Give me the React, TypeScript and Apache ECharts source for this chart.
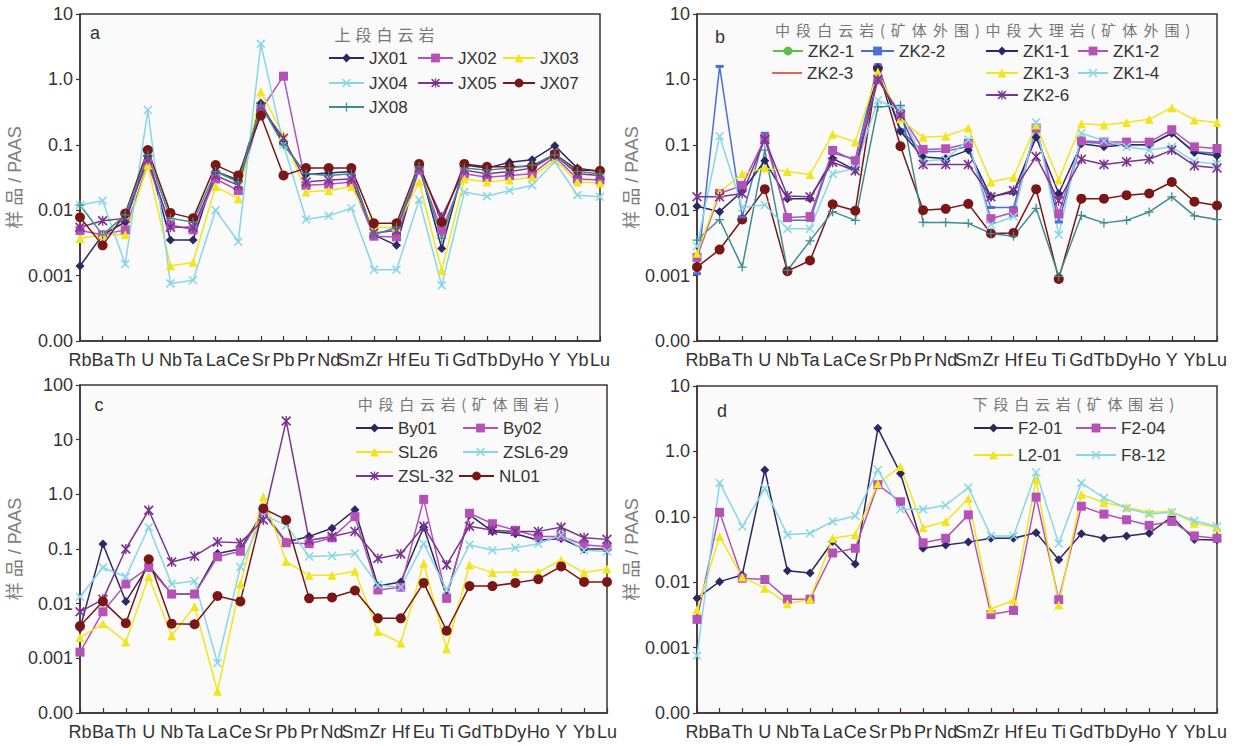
import React, { useEffect, useRef } from 'react';
import * as echarts from 'echarts';

const CATEGORIES = ['Rb', 'Ba', 'Th', 'U', 'Nb', 'Ta', 'La', 'Ce', 'Sr', 'Pb', 'Pr', 'Nd', 'Sm', 'Zr', 'Hf', 'Eu', 'Ti', 'Gd', 'Tb', 'Dy', 'Ho', 'Y', 'Yb', 'Lu'];

// Y tick labels, indexed from exponent -4 upwards
const Y_LABELS_A = ['0.00', '0.001', '0.01', '0.1', '1.0', '10'];
const Y_LABELS_C = ['0.00', '0.001', '0.01', '0.1', '1.0', '10', '100'];
const Y_LABELS_D = ['0.00', '0.001', '0.01', '0.10', '1.0', '10'];

// Panel a
const JX01 = [0.0014, 0.0042, 0.0066, 0.066, 0.0035, 0.0035, 0.039, 0.029, 0.43, 0.105, 0.035, 0.037, 0.039, 0.0042, 0.0029, 0.049, 0.0026, 0.049, 0.044, 0.054, 0.059, 0.097, 0.044, 0.039];
const JX02 = [0.0049, 0.0042, 0.005, 0.051, 0.006, 0.005, 0.030, 0.020, 0.34, 1.12, 0.024, 0.025, 0.027, 0.0040, 0.0039, 0.041, 0.0049, 0.036, 0.032, 0.034, 0.036, 0.066, 0.030, 0.029];
const JX03 = [0.0037, 0.0042, 0.0042, 0.049, 0.0014, 0.0016, 0.023, 0.015, 0.65, 0.14, 0.019, 0.020, 0.023, 0.0055, 0.0055, 0.027, 0.0012, 0.030, 0.027, 0.029, 0.032, 0.059, 0.027, 0.026];
const JX04 = [0.012, 0.014, 0.0015, 0.34, 0.00076, 0.00085, 0.010, 0.0033, 3.5, 0.1, 0.0072, 0.0082, 0.0107, 0.00123, 0.00123, 0.0145, 0.00071, 0.019, 0.0163, 0.020, 0.024, 0.055, 0.017, 0.016];
const JX05 = [0.0055, 0.0069, 0.0075, 0.059, 0.0055, 0.0055, 0.034, 0.024, 0.38, 0.126, 0.027, 0.029, 0.030, 0.0045, 0.0049, 0.044, 0.0079, 0.041, 0.036, 0.039, 0.044, 0.07, 0.036, 0.034];
const JX07 = [0.0078, 0.0029, 0.0089, 0.083, 0.0091, 0.0075, 0.049, 0.034, 0.28, 0.034, 0.044, 0.044, 0.044, 0.0063, 0.0063, 0.051, 0.0066, 0.051, 0.046, 0.046, 0.047, 0.072, 0.041, 0.040];
const JX08 = [0.012, 0.0042, 0.0085, 0.07, 0.0075, 0.0066, 0.039, 0.027, 0.40, 0.10, 0.036, 0.034, 0.036, 0.0042, 0.0055, 0.046, 0.0037, 0.044, 0.041, 0.044, 0.049, 0.07, 0.039, 0.036];

// Panel b
const ZK2_1 = [0.00135, 0.0025, 0.0072, 0.021, 0.00117, 0.0017, 0.0123, 0.0098, 1.5, 0.095, 0.01, 0.0105, 0.0125, 0.0044, 0.0045, 0.021, 0.00089, 0.015, 0.015, 0.017, 0.018, 0.027, 0.0135, 0.0118];
const ZK2_2 = [0.00107, 1.58, 0.0079, 0.15, 0.007, 0.007, 0.075, 0.06, 1.66, 0.17, 0.078, 0.08, 0.094, 0.011, 0.011, 0.19, 0.0066, 0.11, 0.105, 0.1, 0.1, 0.15, 0.078, 0.074];
const ZK2_3 = [0.0035, 0.0072, 0.00135, 0.083, 0.0012, 0.0034, 0.0095, 0.007, 0.38, 0.4, 0.0065, 0.0065, 0.0063, 0.0044, 0.004, 0.0107, 0.00097, 0.0083, 0.0064, 0.007, 0.0094, 0.016, 0.0082, 0.0072];
const ZK1_1 = [0.0115, 0.0095, 0.0195, 0.057, 0.015, 0.015, 0.062, 0.041, 1.5, 0.16, 0.065, 0.062, 0.083, 0.016, 0.019, 0.13, 0.018, 0.104, 0.093, 0.1, 0.1, 0.15, 0.076, 0.068];
const ZK1_2 = [0.0019, 0.018, 0.024, 0.125, 0.0077, 0.008, 0.082, 0.057, 1.0, 0.3, 0.085, 0.087, 0.105, 0.0074, 0.0093, 0.18, 0.0088, 0.115, 0.11, 0.11, 0.11, 0.17, 0.093, 0.088];
const ZK1_3 = [0.0022, 0.019, 0.036, 0.044, 0.039, 0.035, 0.145, 0.11, 1.3, 0.25, 0.13, 0.135, 0.18, 0.027, 0.032, 0.2, 0.029, 0.21, 0.2, 0.22, 0.245, 0.37, 0.24, 0.22];
const ZK1_4 = [0.0028, 0.135, 0.011, 0.012, 0.0052, 0.0052, 0.036, 0.044, 0.48, 0.34, 0.056, 0.06, 0.12, 0.006, 0.008, 0.22, 0.0042, 0.15, 0.115, 0.093, 0.083, 0.093, 0.055, 0.051];
const ZK2_6 = [0.016, 0.016, 0.018, 0.12, 0.0165, 0.016, 0.054, 0.04, 1.0, 0.28, 0.05, 0.05, 0.05, 0.016, 0.02, 0.066, 0.014, 0.06, 0.05, 0.055, 0.06, 0.083, 0.048, 0.044];

// Panel c
const By01 = [0.0035, 0.123, 0.011, 0.05, 0.015, 0.015, 0.083, 0.1, 0.48, 0.134, 0.17, 0.24, 0.52, 0.021, 0.025, 0.25, 0.0135, 0.42, 0.21, 0.19, 0.145, 0.155, 0.1, 0.1];
const By02 = [0.0013, 0.0071, 0.023, 0.046, 0.015, 0.015, 0.072, 0.091, 0.45, 0.13, 0.125, 0.16, 0.39, 0.0178, 0.02, 0.81, 0.0125, 0.45, 0.29, 0.22, 0.17, 0.17, 0.12, 0.11];
const SL26 = [0.0024, 0.0043, 0.002, 0.031, 0.0026, 0.0089, 0.00025, 0.023, 0.9, 0.059, 0.033, 0.033, 0.039, 0.0031, 0.0019, 0.055, 0.0015, 0.051, 0.037, 0.038, 0.038, 0.063, 0.037, 0.043];
const ZSL6_29 = [0.0134, 0.046, 0.031, 0.25, 0.023, 0.026, 0.00082, 0.047, 0.42, 0.27, 0.073, 0.075, 0.083, 0.022, 0.02, 0.125, 0.018, 0.12, 0.095, 0.105, 0.125, 0.18, 0.095, 0.09];
const ZSL_32 = [0.0071, 0.012, 0.1, 0.51, 0.058, 0.074, 0.135, 0.13, 0.34, 22, 0.145, 0.17, 0.21, 0.067, 0.081, 0.26, 0.051, 0.26, 0.22, 0.21, 0.21, 0.25, 0.16, 0.15];
const NL01 = [0.0039, 0.011, 0.0044, 0.065, 0.0043, 0.0042, 0.0138, 0.011, 0.55, 0.34, 0.0125, 0.013, 0.0174, 0.0054, 0.0054, 0.024, 0.0032, 0.021, 0.021, 0.024, 0.028, 0.048, 0.025, 0.025];

// Panel d
const F2_01 = [0.0057, 0.0102, 0.0129, 0.52, 0.015, 0.0138, 0.042, 0.019, 2.25, 0.46, 0.033, 0.037, 0.041, 0.047, 0.047, 0.057, 0.022, 0.055, 0.047, 0.051, 0.056, 0.1, 0.045, 0.044];
const F2_04 = [0.0027, 0.117, 0.0115, 0.011, 0.0055, 0.0055, 0.028, 0.033, 0.31, 0.17, 0.04, 0.047, 0.107, 0.0032, 0.0037, 0.2, 0.0054, 0.145, 0.11, 0.09, 0.074, 0.085, 0.051, 0.047];
const L2_01 = [0.0038, 0.05, 0.012, 0.0081, 0.0047, 0.0055, 0.047, 0.053, 0.32, 0.59, 0.068, 0.085, 0.19, 0.0039, 0.0053, 0.37, 0.0045, 0.22, 0.165, 0.14, 0.117, 0.12, 0.08, 0.068];
const F8_12 = [0.00075, 0.33, 0.071, 0.27, 0.053, 0.056, 0.085, 0.103, 0.52, 0.13, 0.13, 0.15, 0.28, 0.051, 0.051, 0.48, 0.039, 0.33, 0.195, 0.135, 0.11, 0.117, 0.087, 0.071];

const COL = {
  navy: '#2b2862',
  magenta: '#b452b8',
  yellow: '#f2e51c',
  cyan: '#88d6e6',
  purple: '#7a3590',
  darkred: '#7a1616',
  teal: '#3f8c8e',
  blue: '#4a6fd6',
  green: '#5cbf4a',
  orange: '#e0664a',
};

const XPATH = 'path://M0,1.2L1.2,0L5,3.8L8.8,0L10,1.2L6.2,5L10,8.8L8.8,10L5,6.2L1.2,10L0,8.8L3.8,5Z';
const STARPATH = 'path://M0,1.2L1.2,0L5,3.8L8.8,0L10,1.2L6.2,5L10,8.8L8.8,10L5,6.2L1.2,10L0,8.8L3.8,5Z M4.3,0H5.7V10H4.3Z';
const PLUSPATH = 'path://M4.3,0H5.7V4.3H10V5.7H5.7V10H4.3V5.7H0V4.3H4.3Z';

const SYM: Record<string, { symbol: string; size: any }> = {
  diamond: { symbol: 'diamond', size: 9 },
  square: { symbol: 'rect', size: 9 },
  triangle: { symbol: 'triangle', size: 9 },
  cross: { symbol: XPATH, size: 9 },
  star: { symbol: STARPATH, size: 10 },
  circle: { symbol: 'circle', size: 10 },
  plus: { symbol: PLUSPATH, size: 9 },
  dash: { symbol: 'rect', size: [8, 3] },
};

type Spec = { name: string; data: number[]; panel: number; color: string; sym: string; legend: [number, number, number]; legendColor?: string; legendPlain?: boolean };

// legend: [lineLeft, rowCenterY, lineWidth]
const SPECS: Spec[] = [
  { name: 'JX01', data: JX01, panel: 0, color: COL.navy, sym: 'diamond', legend: [328, 58, 35] },
  { name: 'JX02', data: JX02, panel: 0, color: COL.magenta, sym: 'square', legend: [417, 58, 35] },
  { name: 'JX03', data: JX03, panel: 0, color: COL.yellow, sym: 'triangle', legend: [502, 58, 32] },
  { name: 'JX04', data: JX04, panel: 0, color: COL.cyan, sym: 'cross', legend: [328, 83, 35] },
  { name: 'JX05', data: JX05, panel: 0, color: COL.purple, sym: 'star', legend: [417, 83, 35] },
  { name: 'JX07', data: JX07, panel: 0, color: COL.darkred, sym: 'circle', legend: [502, 83, 32] },
  { name: 'JX08', data: JX08, panel: 0, color: COL.teal, sym: 'plus', legend: [328, 107, 35] },

  { name: 'ZK2-1', data: ZK2_1, panel: 1, color: COL.darkred, sym: 'circle', legend: [772, 51, 30], legendColor: COL.green },
  { name: 'ZK2-2', data: ZK2_2, panel: 1, color: COL.blue, sym: 'dash', legend: [860, 51, 33] },
  { name: 'ZK2-3', data: ZK2_3, panel: 1, color: COL.teal, sym: 'plus', legend: [772, 73, 30], legendColor: COL.orange, legendPlain: true },
  { name: 'ZK1-1', data: ZK1_1, panel: 1, color: COL.navy, sym: 'diamond', legend: [985, 51, 32] },
  { name: 'ZK1-2', data: ZK1_2, panel: 1, color: COL.magenta, sym: 'square', legend: [1077, 51, 30] },
  { name: 'ZK1-3', data: ZK1_3, panel: 1, color: COL.yellow, sym: 'triangle', legend: [985, 73, 32] },
  { name: 'ZK1-4', data: ZK1_4, panel: 1, color: COL.cyan, sym: 'cross', legend: [1077, 73, 30] },
  { name: 'ZK2-6', data: ZK2_6, panel: 1, color: COL.purple, sym: 'star', legend: [985, 95, 32] },

  { name: 'By01', data: By01, panel: 2, color: COL.navy, sym: 'diamond', legend: [355, 428, 37] },
  { name: 'By02', data: By02, panel: 2, color: COL.magenta, sym: 'square', legend: [462, 428, 35] },
  { name: 'SL26', data: SL26, panel: 2, color: COL.yellow, sym: 'triangle', legend: [355, 452, 37] },
  { name: 'ZSL6-29', data: ZSL6_29, panel: 2, color: COL.cyan, sym: 'cross', legend: [462, 452, 35] },
  { name: 'ZSL-32', data: ZSL_32, panel: 2, color: COL.purple, sym: 'star', legend: [355, 476, 37] },
  { name: 'NL01', data: NL01, panel: 2, color: COL.darkred, sym: 'circle', legend: [458, 476, 35] },

  { name: 'F2-01', data: F2_01, panel: 3, color: COL.navy, sym: 'diamond', legend: [973, 428, 39] },
  { name: 'F2-04', data: F2_04, panel: 3, color: COL.magenta, sym: 'square', legend: [1075, 428, 40] },
  { name: 'L2-01', data: L2_01, panel: 3, color: COL.yellow, sym: 'triangle', legend: [973, 455, 39] },
  { name: 'F8-12', data: F8_12, panel: 3, color: COL.cyan, sym: 'cross', legend: [1075, 455, 40] },
];

const GRIDS = [
  { left: 80, top: 14, width: 520, height: 327 },
  { left: 697, top: 14, width: 520, height: 327 },
  { left: 80, top: 385, width: 527, height: 328 },
  { left: 697, top: 386, width: 520, height: 327 },
];
const Y_MAX_EXP = [1, 1, 2, 1];
const Y_LABEL_SETS = [Y_LABELS_A, Y_LABELS_A, Y_LABELS_C, Y_LABELS_D];

const PANEL_LETTERS = [
  { t: 'a', x: 95, y: 33 },
  { t: 'b', x: 720, y: 37 },
  { t: 'c', x: 99, y: 405 },
  { t: 'd', x: 722, y: 411 },
];

const TITLES = [
  { t: '上段白云岩', x0: 332, x1: 437, y: 34, fs: 16 },
  { t: '中段白云岩(矿体外围)中段大理岩(矿体外围)', x0: 772, x1: 1193, y: 29, fs: 15 },
  { t: '中段白云岩(矿体围岩)', x0: 355, x1: 562, y: 403, fs: 15 },
  { t: '下段白云岩(矿体围岩)', x0: 970, x1: 1177, y: 403, fs: 15 },
];

const AXIS_COLOR = '#3d3434';
const LATIN = "'Liberation Sans', Arial, 'Noto Sans CJK SC', sans-serif";
const CJK = "'Noto Sans CJK SC', 'Liberation Sans', sans-serif";

function buildOption() {
  const grid = GRIDS.map((g) => ({
    ...g,
    show: true,
    borderColor: AXIS_COLOR,
    borderWidth: 1.5,
    backgroundColor: '#fafafa',
    containLabel: false,
  }));

  const xAxis = GRIDS.map((_, i) => ({
    type: 'category',
    gridIndex: i,
    data: CATEGORIES,
    boundaryGap: false,
    axisLine: { show: true, lineStyle: { color: AXIS_COLOR, width: 1.5 } },
    axisTick: { show: true, inside: true, length: 5, lineStyle: { color: AXIS_COLOR, width: 1.2 } },
    axisLabel: { interval: 0, fontSize: 18, color: '#333', margin: 10, fontFamily: LATIN },
    splitLine: { show: false },
  }));

  const yAxis = GRIDS.map((_, i) => {
    const maxExp = Y_MAX_EXP[i];
    const labels = Y_LABEL_SETS[i];
    return {
      type: 'log',
      logBase: 10,
      gridIndex: i,
      min: 0.0001,
      max: Math.pow(10, maxExp),
      splitNumber: maxExp + 4,
      name: '样 品 / PAAS',
      nameLocation: 'middle',
      nameGap: 51,
      nameTextStyle: { fontSize: 18, color: '#808080', fontFamily: LATIN },
      axisLine: { show: true, lineStyle: { color: AXIS_COLOR, width: 1.5 } },
      axisTick: { show: true, inside: false, length: 4, lineStyle: { color: AXIS_COLOR, width: 1.2 } },
      axisLabel: {
        fontSize: 18,
        color: '#333',
        margin: 7,
        fontFamily: LATIN,
        formatter: (v: number) => {
          const e = Math.round(Math.log10(v));
          return labels[e + 4] ?? '';
        },
      },
      splitLine: { show: false },
      minorTick: { show: false },
    };
  });

  const series = SPECS.map((s) => ({
    type: 'line',
    name: s.name,
    xAxisIndex: s.panel,
    yAxisIndex: s.panel,
    data: s.data,
    symbol: SYM[s.sym].symbol,
    symbolSize: SYM[s.sym].size,
    showAllSymbol: true,
    lineStyle: { color: s.color, width: 1.5 },
    itemStyle: { color: s.color },
    emphasis: { disabled: true },
  }));

  const legend = SPECS.map((s) => {
    const item: any = { name: s.name };
    if (s.legendColor) {
      item.itemStyle = { color: s.legendColor };
      item.lineStyle = { color: s.legendColor };
    }
    const plain = !!s.legendPlain;
    return {
      data: [item],
      left: s.legend[0],
      top: s.legend[1] - 9,
      orient: 'horizontal',
      icon: plain ? 'rect' : undefined,
      itemWidth: s.legend[2],
      itemHeight: plain ? 2 : 11,
      itemGap: 0,
      padding: 0,
      selectedMode: false,
      textStyle: { fontSize: 17, lineHeight: 18, color: '#333', fontFamily: LATIN },
    };
  });

  const graphics: any[] = [];
  PANEL_LETTERS.forEach((p) => {
    graphics.push({
      type: 'text',
      x: p.x,
      y: p.y,
      style: { text: p.t, font: `18px ${LATIN}`, fill: '#333', textAlign: 'center', textVerticalAlign: 'middle' },
      z: 10,
    });
  });
  TITLES.forEach((t) => {
    const chars = Array.from(t.t);
    const w = (c: string) => (c === '(' || c === ')' ? 0.5 : 1);
    const total = chars.reduce((a, c) => a + w(c), 0);
    const unit = (t.x1 - t.x0) / total;
    let acc = 0;
    chars.forEach((ch) => {
      const cw = w(ch) * unit;
      graphics.push({
        type: 'text',
        x: t.x0 + acc + cw / 2,
        y: t.y,
        style: { text: ch, font: `${t.fs}px ${CJK}`, fill: '#777', textAlign: 'center', textVerticalAlign: 'middle' },
        z: 10,
      });
      acc += cw;
    });
  });

  return {
    animation: false,
    backgroundColor: '#ffffff',
    grid,
    xAxis,
    yAxis,
    series,
    legend,
    graphic: graphics,
  };
}

export default function App() {
  const ref = useRef<HTMLDivElement>(null);
  useEffect(() => {
    if (!ref.current) return;
    const chart = echarts.init(ref.current, null, { renderer: 'svg' });
    chart.setOption(buildOption() as any);
    return () => chart.dispose();
  }, []);
  return <div ref={ref} style={{ position: 'absolute', left: 0, top: 0, width: 1235, height: 746 }} />;
}
